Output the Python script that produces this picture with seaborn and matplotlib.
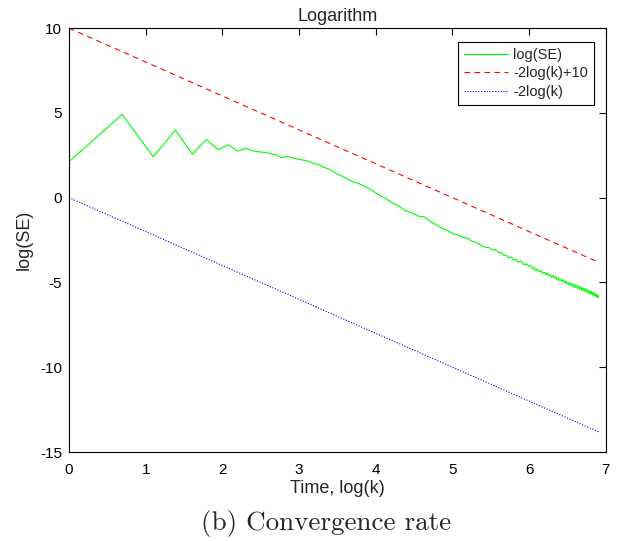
import numpy as np
import pandas as pd
import matplotlib
matplotlib.use("Agg")
import matplotlib.pyplot as plt
import seaborn as sns

# ---- data ----
# iteration index k for the measured series
se_k = [1, 2, 3, 4, 5, 6, 7, 8, 9, 10, 11, 12, 13, 14, 15, 16, 17, 18, 20, 22, 24, 26,
        28, 30, 33, 36, 40, 44, 48, 52, 57, 62, 68, 74, 80, 87, 95, 103, 112, 122, 133, 140,
        150, 160, 170, 180, 190, 200, 210, 220, 230, 240, 250, 260, 270, 280, 290, 300,
        310, 320, 330, 340, 350, 360, 370, 380, 390, 400, 410, 420, 430, 440, 450, 460,
        470, 480, 490, 500, 510, 520, 530, 540, 550, 560, 570, 580, 590, 600, 610, 620,
        630, 640, 650, 660, 670, 680, 690, 700, 710, 720, 730, 740, 750, 760, 770, 780,
        790, 800, 810, 820, 830, 840, 850, 860, 870, 880, 890, 900, 910, 920, 930, 940,
        950, 960, 970, 980, 990, 1000]
log_se = [2.12, 4.91, 2.41, 3.99, 2.57, 3.44, 2.83, 3.12, 2.75, 2.91, 2.76, 2.70, 2.66,
          2.58, 2.52, 2.36, 2.42, 2.38, 2.26, 2.19, 2.05, 1.95, 1.78, 1.66, 1.40, 1.22,
          0.96, 0.82, 0.62, 0.44, 0.15, -0.03, -0.32, -0.50, -0.76, -0.88, -1.09, -1.13,
          -1.42, -1.64, -1.87, -1.95,
          -2.14, -2.20, -2.33, -2.38, -2.55, -2.62, -2.73, -2.88, -2.93, -2.95, -3.08,
          -3.07, -3.22, -3.24, -3.40, -3.41, -3.55, -3.49, -3.68, -3.64, -3.80, -3.72,
          -3.83, -3.97, -3.90, -4.06, -4.00, -4.18, -4.12, -4.30, -4.21, -4.36, -4.29,
          -4.47, -4.40, -4.54, -4.45, -4.61, -4.52, -4.70, -4.58, -4.74, -4.66, -4.84,
          -4.73, -4.90, -4.80, -4.96, -4.84, -5.03, -4.91, -5.09, -4.98, -5.16, -5.02,
          -5.20, -5.08, -5.27, -5.12, -5.30, -5.18, -5.37, -5.22, -5.41, -5.27, -5.46,
          -5.31, -5.50, -5.36, -5.55, -5.40, -5.58, -5.45, -5.64, -5.50, -5.69, -5.54,
          -5.73, -5.59, -5.79, -5.64, -5.83, -5.69, -5.88, -5.74, -5.90]

# reference lines (straight in log-log space), values at k = 1 and k = 1000
ref_k = [1, 1000]
ref_upper = [10.0, -3.8155]   # -2log(k)+10
ref_lower = [0.0, -13.8155]   # -2log(k)

labels = ["log(SE)", "-2log(k)+10", "-2log(k)"]
title = "Logarithm"
xlabel = "Time, log(k)"
ylabel = "log(SE)"
caption = "(b) Convergence rate"
xticks = [0, 1, 2, 3, 4, 5, 6, 7]
yticks = [-15, -10, -5, 0, 5, 10]

# ---- plotting ----
sns.set_style("white")
plt.rcParams["font.family"] = ["Liberation Sans", "DejaVu Sans"]

fig = plt.figure(figsize=(6.25, 5.41), dpi=100)
ax = fig.add_axes([0.1104, 0.1645, 0.859, 0.7835])

df_se = pd.DataFrame({"x": np.log(se_k), "y": log_se})
df_up = pd.DataFrame({"x": np.log(ref_k), "y": ref_upper})
df_lo = pd.DataFrame({"x": np.log(ref_k), "y": ref_lower})

sns.lineplot(data=df_se, x="x", y="y", ax=ax, color="#00ff00", lw=0.8,
             label=labels[0], estimator=None, sort=False)
sns.lineplot(data=df_up, x="x", y="y", ax=ax, color="#ff0000", lw=0.8,
             linestyle=(0, (5, 4)), label=labels[1], estimator=None)
sns.lineplot(data=df_lo, x="x", y="y", ax=ax, color="#0000ff", lw=0.8,
             linestyle=(0, (1, 1.5)), label=labels[2], estimator=None)

ax.set_xlim(0, 7)
ax.set_ylim(-15, 10)
ax.set_xticks(xticks)
ax.set_yticks(yticks)
ax.set_xticklabels([str(t) for t in xticks])
ax.set_yticklabels([str(t) for t in yticks])
ax.tick_params(direction="in", length=5, width=0.8, top=True, right=True,
               labelsize=11, colors="black")
ax.tick_params(axis="x", pad=8)
ax.tick_params(axis="y", pad=5)
for s in ax.spines.values():
    s.set_color("black")
    s.set_linewidth(0.8)

ax.set_title(title, fontsize=13, pad=5)
ax.set_xlabel(xlabel, fontsize=13, labelpad=2)
ax.set_ylabel(ylabel, fontsize=13, labelpad=5)

leg = ax.legend(loc="upper right", bbox_to_anchor=(0.978, 0.967), borderaxespad=0,
                fontsize=10.5, frameon=True, fancybox=False, edgecolor="black",
                framealpha=1, handlelength=3.0, handletextpad=0.4, borderpad=0.4,
                labelspacing=0.3)
leg.get_frame().set_linewidth(0.8)

fig.text(0.5216, 0.0203, caption, family="cmr10", fontsize=19.5,
         ha="center", va="baseline")

fig.savefig("out.png", dpi=100)
